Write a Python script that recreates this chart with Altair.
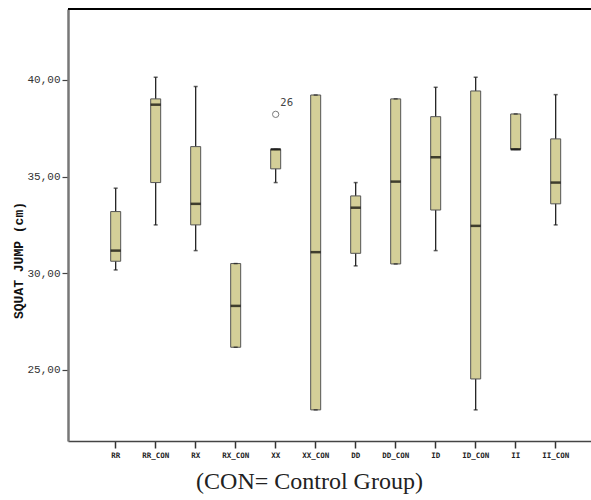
import altair as alt
import pandas as pd

groups = ["RR", "RR_CON", "RX", "RX_CON", "XX", "XX_CON",
          "DD", "DD_CON", "ID", "ID_CON", "II", "II_CON"]
lower_whisker = [30.17, 32.50, 31.17, 26.17, 34.69, 22.93, 30.38, 30.48, 31.17, 22.93, 36.41, 32.50]
q1 = [30.62, 34.69, 32.50, 26.17, 35.40, 22.93, 31.03, 30.48, 33.27, 24.53, 36.41, 33.59]
median = [31.17, 38.72, 33.59, 28.31, 36.41, 31.09, 33.39, 34.74, 36.00, 32.45, 36.41, 34.69]
q3 = [33.19, 39.02, 36.55, 30.50, 36.41, 39.22, 34.00, 39.02, 38.10, 39.43, 38.24, 36.95]
upper_whisker = [34.40, 40.14, 39.66, 30.50, 36.41, 39.22, 34.69, 39.02, 39.62, 40.14, 38.24, 39.24]

outlier_group = ["XX"]
outlier_value = [38.22]
outlier_label = ["26"]

y_ticks = [25, 30, 35, 40]

df = pd.DataFrame({
    "group": groups, "lw": lower_whisker, "q1": q1, "med": median,
    "q3": q3, "uw": upper_whisker,
})
df_out = pd.DataFrame({"group": outlier_group, "v": outlier_value, "lab": outlier_label})

W, H = 523, 432

xscale = alt.Scale(domain=groups, paddingInner=0.5, paddingOuter=0.7875, align=0.598)
yscale = alt.Scale(domain=[21.32, 43.67], nice=False, zero=False)

xax = alt.Axis(title=None, labelAngle=0, labelFont="DejaVu Sans Mono", labelFontSize=7.5,
               labelFontWeight="bold", labelColor="#222", tickColor="#333", tickSize=7,
               tickWidth=1.5, domainColor="#444", domainWidth=1.5, labelPadding=3, grid=False)
yax = alt.Axis(title="SQUAT JUMP (cm)", values=y_ticks,
               labelExpr="replace(format(datum.value, '.2f'), '.', ',')",
               labelFont="Liberation Mono", labelFontSize=11, labelColor="#333",
               labelPadding=2, tickColor="#444", tickSize=6, tickWidth=1.2,
               domainColor="#777", domainWidth=2.5, grid=False,
               titleFont="Liberation Mono", titleFontSize=13, titleFontWeight="bold",
               titleColor="#111", titleAngle=270, titleX=-50, titleY=251,
               titleAlign="center", titleBaseline="middle")

base = alt.Chart(df)

whisk = base.mark_rule(color="#222", strokeWidth=1.3).encode(
    x=alt.X("group:N", scale=xscale, axis=xax, sort=groups),
    y=alt.Y("lw:Q", scale=yscale, axis=yax),
    y2="uw:Q",
)
caps_lo = base.mark_tick(color="#222", size=4, thickness=1.5).encode(
    x=alt.X("group:N", sort=groups), y="lw:Q")
caps_hi = base.mark_tick(color="#222", size=4, thickness=1.5).encode(
    x=alt.X("group:N", sort=groups), y="uw:Q")
box = base.mark_bar(size=10, fill="#D4CF98", stroke="#555", strokeWidth=1).encode(
    x=alt.X("group:N", sort=groups), y="q1:Q", y2="q3:Q")
med = base.mark_tick(color="#000", size=10, thickness=2.5).encode(
    x=alt.X("group:N", sort=groups), y="med:Q")

outl = alt.Chart(df_out).mark_point(shape="circle", filled=False, size=40,
                                    color="#444", strokeWidth=1).encode(
    x=alt.X("group:N", sort=groups), y="v:Q")
outl_txt = alt.Chart(df_out).mark_text(dx=11, dy=-11, fontSize=10, color="#444",
                                       font="DejaVu Sans").encode(
    x=alt.X("group:N", sort=groups), y="v:Q", text="lab:N")

top_border = alt.Chart(df_out).mark_rule(color="#000", strokeWidth=2).encode(
    x=alt.value(0), x2=alt.value(W), y=alt.value(0))

chart = alt.layer(whisk, box, med, caps_lo, caps_hi, outl, outl_txt, top_border).properties(
    width=W, height=H,
    title=alt.TitleParams("(CON= Control Group)", orient="bottom", anchor="middle",
                          frame="group", font="Liberation Serif", fontSize=24,
                          fontWeight="normal", color="#222", dx=-20, offset=11),
    autosize=alt.AutoSizeParams(type="none"),
    padding={"left": 68, "top": 9, "right": 0, "bottom": 59},
).configure_view(stroke=None, fill="#F0F0F0").configure(background="white")

chart.save("out.html", embed_options={"renderer": "svg", "actions": False})
